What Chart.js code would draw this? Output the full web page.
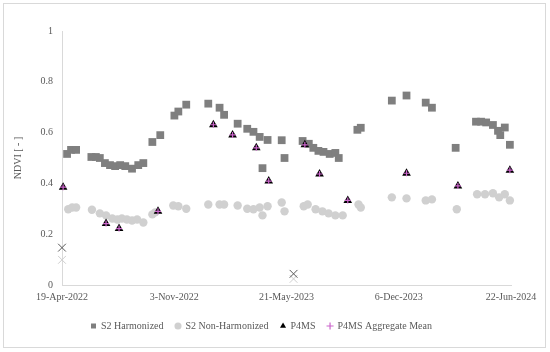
<!DOCTYPE html>
<html>
<head>
<meta charset="utf-8">
<script src="https://cdn.jsdelivr.net/npm/chart.js@4/dist/chart.umd.min.js"></script>
<style>
  html, body { margin: 0; padding: 0; background: #fff; }
  #wrap { width: 550px; height: 352px; }
</style>
</head>
<body>
<div id="wrap"><canvas id="chart" width="550" height="352"></canvas></div>
<script>
// ------- Data -------
const startDate = "2022-04-19";
const endDate = "2024-06-22";
const xTickLabels = ["19-Apr-2022", "3-Nov-2022", "21-May-2023", "6-Dec-2023", "22-Jun-2024"];

const harmonizedDates = [
  "2022-04-28", "2022-05-05", "2022-05-14", "2022-06-10", "2022-06-18", "2022-06-25",
  "2022-07-04", "2022-07-13", "2022-07-22", "2022-07-31", "2022-08-09", "2022-08-21",
  "2022-09-01", "2022-09-10", "2022-09-26", "2022-10-10", "2022-11-04", "2022-11-11",
  "2022-11-25", "2023-01-03", "2023-01-23", "2023-01-31", "2023-02-24", "2023-03-13",
  "2023-03-24", "2023-04-04", "2023-04-09", "2023-04-18", "2023-05-13", "2023-05-18",
  "2023-06-19", "2023-06-30", "2023-07-08", "2023-07-17", "2023-07-26", "2023-08-06",
  "2023-08-16", "2023-08-22", "2023-09-24", "2023-09-30", "2023-11-24", "2023-12-20",
  "2024-01-23", "2024-02-03", "2024-03-16", "2024-04-21", "2024-04-30", "2024-05-09",
  "2024-05-21", "2024-05-30", "2024-06-03", "2024-06-11", "2024-06-20"
];
const harmonizedNdvi = [
  0.516, 0.532, 0.532, 0.504, 0.504, 0.500,
  0.480, 0.472, 0.468, 0.472, 0.468, 0.458,
  0.472, 0.480, 0.563, 0.590, 0.667, 0.683,
  0.710, 0.714, 0.698, 0.670, 0.635, 0.615,
  0.603, 0.583, 0.460, 0.571, 0.570, 0.500,
  0.567, 0.556, 0.540, 0.528, 0.524, 0.516,
  0.520, 0.500, 0.611, 0.619, 0.726, 0.746,
  0.718, 0.698, 0.540, 0.643, 0.643, 0.640,
  0.630, 0.607, 0.590, 0.620, 0.552
];

const nonHarmonizedDates = [
  "2022-04-30", "2022-05-07", "2022-05-14", "2022-06-11", "2022-06-25", "2022-07-06",
  "2022-07-17", "2022-07-26", "2022-08-03", "2022-08-12", "2022-08-21", "2022-08-30",
  "2022-09-10", "2022-09-26", "2022-10-01", "2022-11-02", "2022-11-11", "2022-11-25",
  "2023-01-03", "2023-01-23", "2023-01-31", "2023-02-24", "2023-03-13", "2023-03-24",
  "2023-04-04", "2023-04-09", "2023-04-18", "2023-05-13", "2023-05-18", "2023-06-21",
  "2023-06-28", "2023-07-12", "2023-07-24", "2023-08-04", "2023-08-16", "2023-08-29",
  "2023-09-26", "2023-09-30", "2023-11-24", "2023-12-20", "2024-01-23", "2024-02-03",
  "2024-03-18", "2024-04-23", "2024-05-07", "2024-05-21", "2024-06-01", "2024-06-11",
  "2024-06-20"
];
const nonHarmonizedNdvi = [
  0.298, 0.305, 0.305, 0.296, 0.282, 0.274,
  0.262, 0.258, 0.262, 0.258, 0.254, 0.258,
  0.246, 0.278, 0.286, 0.313, 0.310, 0.300,
  0.317, 0.317, 0.317, 0.313, 0.300, 0.298,
  0.305, 0.274, 0.310, 0.325, 0.290, 0.310,
  0.317, 0.298, 0.290, 0.282, 0.274, 0.274,
  0.317, 0.305, 0.345, 0.341, 0.333, 0.337,
  0.298, 0.357, 0.357, 0.361, 0.345, 0.357,
  0.333
];

const p4msDates = [
  "2022-04-21", "2022-07-06", "2022-07-29", "2022-10-06", "2023-01-12", "2023-02-15",
  "2023-03-29", "2023-04-20", "2023-06-23", "2023-07-19", "2023-09-07", "2023-12-20",
  "2024-03-20", "2024-06-20"
];
const p4msNdvi = [
  0.385, 0.242, 0.222, 0.290, 0.631, 0.591,
  0.540, 0.409, 0.552, 0.437, 0.333, 0.440,
  0.390, 0.452
];

const aggregateMeanDates = p4msDates.slice();
const aggregateMeanNdvi = [
  0.385, 0.242, 0.222, 0.290, 0.631, 0.591,
  0.540, 0.409, 0.552, 0.437, 0.333, 0.440,
  0.390, 0.452
];

// two unlabelled series (x markers, not in the legend)
const darkCrossDates = ["2022-04-19", "2023-06-03"];
const darkCrossNdvi = [0.147, 0.044];
const lightCrossDates = ["2022-04-19", "2023-06-03"];
const lightCrossNdvi = [0.099, 0.024];

// ------- Helpers -------
const DAY_MS = 86400000;
const dayOf = (s) => (Date.parse(s) - Date.parse(startDate)) / DAY_MS;
const totalDays = dayOf(endDate);
const toPoints = (dates, values) => dates.map((d, i) => ({ x: dayOf(d), y: values[i] }));

const textColor = "#595959";
const axisColor = "#D9D9D9";
const baseFont = { family: "'Liberation Serif', 'Times New Roman', serif", size: 10 };

const framePlugin = {
  id: "frame",
  beforeDraw(chart) {
    const ctx = chart.ctx;
    ctx.save();
    ctx.fillStyle = "#fff";
    ctx.fillRect(0, 0, chart.width, chart.height);
    ctx.strokeStyle = axisColor;
    ctx.lineWidth = 1;
    ctx.strokeRect(3.5, 3.5, 542, 344);
    ctx.restore();
  },
};

// ------- Chart -------
const ctx = document.getElementById("chart").getContext("2d");
new Chart(ctx, {
  type: "scatter",
  data: {
    datasets: [
      { label: "S2 Harmonized", data: toPoints(harmonizedDates, harmonizedNdvi),
        pointStyle: "rect", pointRadius: 5.5, backgroundColor: "#7F7F7F", borderColor: "#7F7F7F",
        borderWidth: 0, clip: false, order: 4 },
      { label: "S2 Non-Harmonized", data: toPoints(nonHarmonizedDates, nonHarmonizedNdvi),
        pointStyle: "circle", pointRadius: 4.2, backgroundColor: "#D0D0D0", borderColor: "#D0D0D0",
        borderWidth: 0, clip: false, order: 3 },
      { label: "P4MS", data: toPoints(p4msDates, p4msNdvi),
        pointStyle: "triangle", pointRadius: 5, backgroundColor: "#000000", borderColor: "#000000",
        borderWidth: 0, clip: false, order: 2 },
      { label: "P4MS Aggregate Mean", data: toPoints(aggregateMeanDates, aggregateMeanNdvi),
        pointStyle: "cross", pointRadius: 3, backgroundColor: "#CC66CC", borderColor: "#CC66CC",
        borderWidth: 1.2, clip: false, order: 1 },
      { label: "", data: toPoints(darkCrossDates, darkCrossNdvi),
        pointStyle: "crossRot", pointRadius: 5.5, borderColor: "#595959",
        borderWidth: 1, clip: false, order: 0 },
      { label: "", data: toPoints(lightCrossDates, lightCrossNdvi),
        pointStyle: "crossRot", pointRadius: 5.5, borderColor: "#CFCFCF",
        borderWidth: 1, clip: false, order: 5 },
    ],
  },
  options: {
    responsive: false,
    animation: false,
    devicePixelRatio: 1,
    layout: { padding: { left: 12, right: 39, top: 31, bottom: 11 } },
    plugins: {
      legend: {
        position: "bottom",
        labels: {
          usePointStyle: true,
          boxWidth: 5,
          boxHeight: 5,
          padding: 12,
          color: textColor,
          font: baseFont,
          filter: (item) => item.datasetIndex < 4,
          sort: (a, b) => a.datasetIndex - b.datasetIndex,
        },
      },
      tooltip: { enabled: false },
    },
    scales: {
      x: {
        type: "linear",
        min: 0,
        max: totalDays,
        afterFit: (s) => { s.height = 24; },
        afterBuildTicks: (s) => {
          s.ticks = xTickLabels.map((_, i) => ({ value: i * totalDays / (xTickLabels.length - 1) }));
        },
        grid: { display: false, drawTicks: false },
        border: { display: true, color: axisColor, width: 1 },
        ticks: {
          autoSkip: false,
          maxRotation: 0,
          padding: 6,
          color: textColor,
          font: baseFont,
          callback: (v, i) => xTickLabels[i],
        },
      },
      y: {
        type: "linear",
        min: 0,
        max: 1,
        afterFit: (s) => { s.width = 50; },
        grid: { display: false, drawTicks: false },
        border: { display: true, color: axisColor, width: 1 },
        ticks: {
          stepSize: 0.2,
          padding: 9,
          color: textColor,
          font: baseFont,
          callback: (v) => String(+v.toFixed(1)),
        },
        title: {
          display: true,
          text: "NDVI [ - ]",
          color: textColor,
          font: baseFont,
          padding: { top: 0, bottom: 0 },
        },
      },
    },
  },
  plugins: [framePlugin],
});
</script>
</body>
</html>
